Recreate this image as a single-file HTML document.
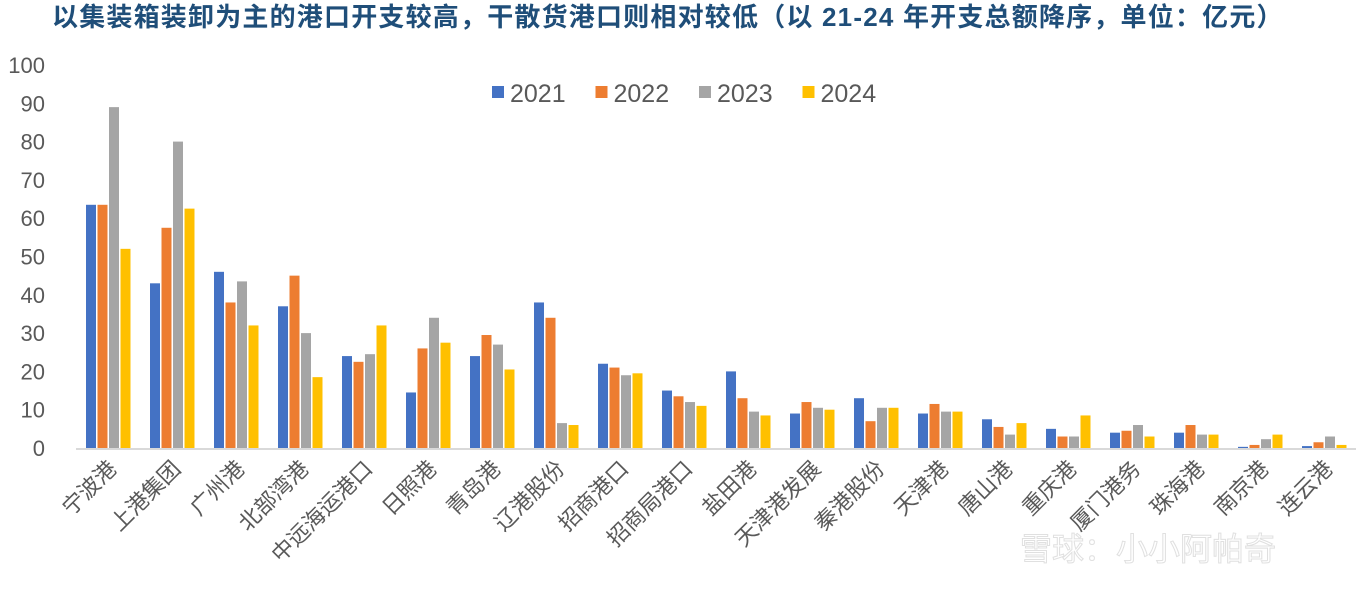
<!DOCTYPE html>
<html><head><meta charset="utf-8"><style>
body{margin:0;background:#fff;width:1368px;height:590px;overflow:hidden;font-family:"Liberation Sans","Noto Sans CJK SC",sans-serif;}
</style></head><body>
<svg id="chart" width="1368" height="590" xmlns="http://www.w3.org/2000/svg" font-family="Liberation Sans, Noto Sans CJK SC, sans-serif">
<text x="52" y="26" font-size="26" font-weight="bold" fill="#1f4e79" letter-spacing="1.2">以集装箱装卸为主的港口开支较高，干散货港口则相对较低（以 21-24 年开支总额降序，单位：亿元）</text>
<g id="yaxis"></g><g id="bars"></g><g id="xlabels"></g><g id="legend"></g>
<text x="1020" y="560" font-size="32" fill="#ffffff" stroke="#e0e0e0" stroke-width="1">雪球：小小阿帕奇</text>
</svg>
<script>
const categories=["宁波港","上港集团","广州港","北部湾港","中远海运港口","日照港","青岛港","辽港股份","招商港口","招商局港口","盐田港","天津港发展","秦港股份","天津港","唐山港","重庆港","厦门港务","珠海港","南京港","连云港"];
const seriesNames=["2021","2022","2023","2024"];
const v2021=[63.5,43,46,37,24,14.5,24,38,22,15,20,9,13,9,7.5,5,4,4,0.3,0.5];
const v2022=[63.5,57.5,38,45,22.5,26,29.5,34,21,13.5,13,12,7,11.5,5.5,3,4.5,6,0.8,1.5];
const v2023=[89,80,43.5,30,24.5,34,27,6.5,19,12,9.5,10.5,10.5,9.5,3.5,3,6,3.5,2.3,3];
const v2024=[52,62.5,32,18.5,32,27.5,20.5,6,19.5,11,8.5,10,10.5,9.5,6.5,8.5,3,3.5,3.5,0.8];
const yTicks=[0,10,20,30,40,50,60,70,80,90,100];
const colors=["#4472c4","#ed7d31","#a5a5a5","#ffc000"];
const NS="http://www.w3.org/2000/svg";
const X0=76,GW=64,Y0=448,PPU=3.83;
const y=v=>Y0-v*PPU;
const gx=i=>X0+i*GW;
const all=[v2021,v2022,v2023,v2024];
const ya=document.getElementById('yaxis');
yTicks.forEach(t=>{const e=document.createElementNS(NS,'text');


e.setAttribute('x',45);e.setAttribute('y',y(t)+8);e.setAttribute('text-anchor','end');e.setAttribute('font-size','22');e.setAttribute('fill','#595959');e.textContent=t;ya.appendChild(e);});
const ax=document.createElementNS(NS,'line');


ax.setAttribute('x1',X0);ax.setAttribute('x2',X0+GW*20);ax.setAttribute('y1',Y0+1);ax.setAttribute('y2',Y0+1);ax.setAttribute('stroke','#d9d9d9');ax.setAttribute('stroke-width','2');ya.appendChild(ax);
const bg=document.getElementById('bars');
categories.forEach((c,i)=>{all.forEach((s,k)=>{const r=document.createElementNS(NS,'rect');


r.setAttribute('x',gx(i)+10+k*11.5);r.setAttribute('width',10);r.setAttribute('y',y(s[i]));r.setAttribute('height',s[i]*PPU);r.setAttribute('fill',colors[k]);bg.appendChild(r);});
const t=document.createElementNS(NS,'text');


const cx=gx(i)+42,cy=Y0+22;
t.setAttribute('x',cx);t.setAttribute('y',cy);t.setAttribute('text-anchor','end');t.setAttribute('font-size','22');t.setAttribute('fill','#595959');t.setAttribute('transform','rotate(-45 '+cx+' '+cy+')');t.textContent=c;document.getElementById('xlabels').appendChild(t);});
const lg=document.getElementById('legend');
seriesNames.forEach((n,k)=>{const lx=492+k*103.5;const g=document.createElementNS(NS,'g');


const r=document.createElementNS(NS,'rect');r.setAttribute('x',lx);r.setAttribute('y',86);r.setAttribute('width',12);r.setAttribute('height',12);r.setAttribute('fill',colors[k]);g.appendChild(r);
const t=document.createElementNS(NS,'text');t.setAttribute('x',lx+18);t.setAttribute('y',102);t.setAttribute('font-size','25');t.setAttribute('fill','#595959');t.textContent=n;g.appendChild(t);lg.appendChild(g);});
</script>
</body></html>
